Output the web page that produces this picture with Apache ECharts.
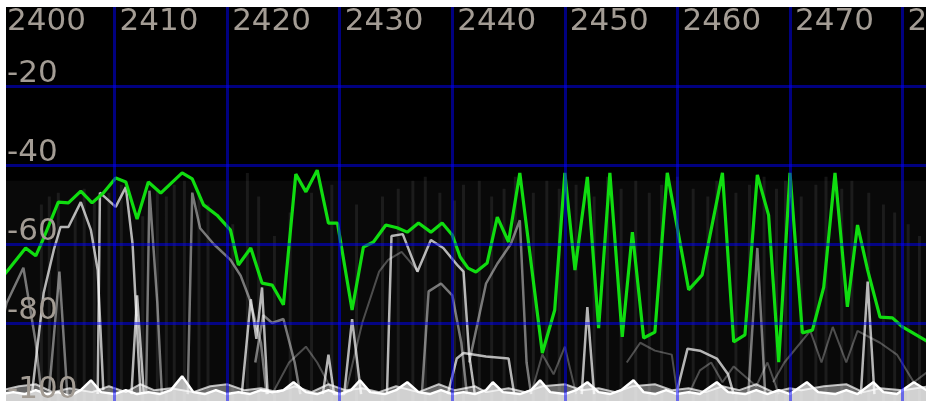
<!DOCTYPE html>
<html>
<head>
<meta charset="utf-8">
<script src="https://cdn.jsdelivr.net/npm/echarts@6/dist/echarts.min.js"></script>
<style>
  html, body { margin: 0; padding: 0; background: #fff; }
  #chart { width: 926px; height: 401px; }
</style>
</head>
<body>
<div id="chart"></div>
<script>
// max hold (green) [MHz, dBm]
const maxHold = [
  [2400,-68.5],[2400.4,-67.1],[2402.1,-61.0],[2403.0,-63.0],[2403.7,-58.5],[2405.0,-49.4],[2405.9,-49.6],
  [2407.0,-46.6],[2408.0,-49.6],[2409.0,-47.1],[2410.1,-43.3],[2411.0,-44.3],[2412.0,-53.7],[2413.0,-44.3],
  [2414.1,-47.1],[2416.0,-42.0],[2416.9,-43.5],[2417.9,-50.1],[2419.1,-52.7],[2420.3,-56.5],[2421.0,-65.3],
  [2422.1,-61.0],[2423.1,-69.9],[2424.0,-70.4],[2425.0,-75.4],[2426.1,-42.3],[2427.0,-46.8],[2428.0,-41.3],
  [2429.0,-54.7],[2429.8,-54.7],[2431.1,-76.7],[2432.1,-60.8],[2433.0,-59.5],[2434.1,-55.2],[2435.1,-55.9],
  [2436.0,-57.0],[2437.0,-54.7],[2438.1,-57.0],[2439.1,-54.7],[2440.0,-57.7],[2440.7,-63.3],[2441.4,-66.1],
  [2442.1,-67.1],[2443.1,-64.8],[2444.0,-53.2],[2445.0,-59.5],[2446.0,-42.0],[2448.0,-87.6],[2449.1,-76.7],
  [2450.0,-42.0],[2450.9,-66.6],[2452.0,-43.0],[2453.0,-81.3],[2454.0,-42.0],[2455.1,-83.5],[2456.0,-57.0],
  [2457.0,-83.8],[2458.0,-82.3],[2459.1,-42.0],[2461.0,-71.6],[2462.2,-67.8],[2464.0,-42.0],[2465.0,-84.8],
  [2466.0,-83.0],[2467.1,-42.5],[2468.1,-52.7],[2469.0,-89.9],[2470.0,-42.0],[2471.1,-82.5],[2472.0,-81.8],
  [2473.0,-70.9],[2474.0,-42.0],[2475.1,-75.9],[2476.0,-55.2],[2476.9,-66.6],[2478.0,-78.5],[2479.1,-78.7],
  [2480.0,-81.0],[2482.4,-85.0]
];

// noise floor sweeps
const floorA = [
  [2400,-98],[2401,-97.5],[2402,-98],[2403,-97],[2404,-98],[2405,-97.5],[2406,-98.5],[2407,-97],[2407.9,-94.5],
  [2408.8,-97.5],[2410,-98],[2411,-97],[2412,-98],[2413,-97.5],[2414,-98],[2415,-97],[2416,-93.5],[2417,-97.5],
  [2418,-98],[2419,-97],[2420,-98],[2421,-97.5],[2422,-98],[2423,-97],[2424,-97.5],[2425,-97],[2425.9,-95],
  [2427,-97.5],[2428,-98],[2429,-97],[2430,-98],[2431,-97],[2431.8,-94.5],[2432.7,-97.5],[2434,-98],[2435,-97],
  [2436,-95],[2437,-97.5],[2438,-98],[2439,-97],[2440,-98],[2441,-97.5],[2442,-98],[2443,-97],[2443.6,-95],
  [2444.5,-97.5],[2446,-98],[2447,-97],[2447.8,-94.5],[2448.7,-97.5],[2450,-98],[2451,-97],[2452,-95],
  [2453,-97.5],[2454,-98],[2455,-97],[2456.1,-94.5],[2457,-97.5],[2458,-98],[2459,-97],[2460,-98],[2461,-97.5],
  [2462,-98],[2463.5,-95],[2464.5,-97.5],[2466,-98],[2467,-97],[2468,-98],[2469,-97],[2470,-98],[2471.5,-95],
  [2472.5,-97.5],[2474,-98],[2475,-97],[2476,-98],[2477.4,-95],[2478.3,-97.5],[2479.5,-98],[2481,-95],[2482.4,-97.5]
];
const floorB = [
  [2400,-97],[2401.5,-96],[2403,-95.5],[2404.5,-97.5],[2406,-96.5],[2408,-97.5],[2409.5,-96],[2411,-97.5],
  [2412.3,-95.5],[2413.5,-97],[2415,-96.5],[2417,-97.5],[2418.5,-96],[2420,-95.5],[2421.5,-97],[2423,-96.5],
  [2424.5,-97.5],[2426,-96],[2427.5,-97.5],[2429,-95.5],[2430.5,-97],[2432,-96.5],[2433.5,-97.5],[2435,-96],
  [2437,-97.5],[2438.8,-95.5],[2440.2,-97],[2442,-96],[2443,-97.5],[2445,-96.5],[2446.5,-97.5],[2448,-96],
  [2450,-95.5],[2451.5,-97],[2453,-96.5],[2454.5,-97.5],[2456,-96],[2458,-95.5],[2459.5,-97],[2461,-96.5],
  [2462.5,-97.5],[2464,-96],[2465.5,-97],[2467,-95.5],[2468.5,-97.5],[2470,-96.5],[2471,-97],[2473,-96],
  [2475,-95.5],[2476.5,-97.5],[2478,-96.5],[2480,-97],[2482.4,-96]
];

// older sweeps (white / grey)
const sweepBright = [
  [[2402.7,-97],[2403.7,-72.4],[2404.6,-61.5],[2405.2,-55.7],[2405.9,-55.7],[2407.0,-49.4],[2407.9,-56.5],[2408.5,-66.6],[2409.0,-97]],
  [[2408.5,-98],[2408.7,-47],[2410.1,-50.6],[2411.0,-45.6],[2411.6,-60],[2412.3,-98]],
  [[2411.5,-98],[2412,-73],[2412.6,-98]],
  [[2421.3,-98],[2422.1,-74],[2422.6,-84],[2423.1,-71],[2423.6,-98]],
  [[2428.5,-98],[2429,-88],[2429.5,-98],[2430.4,-98],[2431.1,-79],[2431.9,-98]],
  [[2434.2,-98],[2434.6,-58],[2435.6,-57.5],[2436.9,-67],[2438.1,-59],[2439.2,-61],[2440.5,-65.5],[2441,-67],[2441.5,-88],[2442,-98]],
  [[2439.6,-98],[2440.4,-89],[2441,-87.6],[2443,-88.5],[2445,-89],[2445.5,-98]],
  [[2451.5,-98],[2452,-76],[2452.6,-98]],
  [[2459.9,-98],[2460.9,-86.5],[2462,-87],[2463.5,-89],[2464.5,-93],[2465,-98]],
  [[2476.3,-98],[2476.9,-69.5],[2477.5,-98]]
];
const sweepGrey = [
  [[2400,-80],[2400.4,-75],[2401.9,-66],[2403,-85],[2403.5,-98]],
  [[2404.2,-97],[2405.1,-67],[2405.8,-98]],
  [[2412.8,-98],[2413.1,-46.5],[2413.8,-75],[2414.2,-98]],
  [[2416.5,-98],[2416.9,-47],[2417.6,-56],[2418.8,-60],[2420.3,-64],[2421.2,-68],[2422,-74],[2423,-85],[2423.5,-98]],
  [[2422.5,-90],[2423.2,-78],[2424,-80],[2425,-79],[2426,-90],[2426.5,-98]],
  [[2437.3,-98],[2437.9,-72],[2439,-70],[2440,-73],[2440.8,-85],[2441.3,-98]],
  [[2441.5,-90],[2443,-70],[2444,-65],[2445.2,-60],[2446,-54],[2446.6,-90],[2447,-98]],
  [[2466.3,-98],[2467.1,-61],[2467.8,-98]]
];
const sweepDim = [
  [[2430.5,-98],[2432,-80],[2433.5,-67],[2434.3,-64],[2435.5,-62],[2437,-67]],
  [[2455.5,-90],[2456.7,-85],[2458,-87],[2459.5,-88],[2460,-98]],
  [[2468.5,-95],[2469.5,-90],[2471.8,-82],[2472.8,-90],[2473.8,-81],[2475,-90],[2476,-82],[2478,-85],[2479.5,-88],[2481,-95],[2482.4,-92]],
  [[2424,-98],[2425.5,-90],[2427,-86],[2428,-90],[2429.5,-98]],
  [[2447,-98],[2448,-88],[2449,-93],[2450,-86],[2451,-98]],
  [[2461,-98],[2462,-92],[2463,-90],[2464,-95],[2465,-91],[2467,-96],[2468,-90],[2469,-98]]
];

// faint history streaks: frequency and peak level
const histFreq = [2403.5,2404.2,2405,2406.5,2407.3,2408.2,2409.5,2410.6,2412.5,2413.8,2414.6,2415.3,2416.2,2417.5,
  2418.3,2420.5,2421.8,2422.8,2424.2,2425.6,2427.5,2429.3,2431.5,2433.8,2435.2,2436.5,2437.6,2438.9,2440.2,2441,
  2442.4,2443.5,2444.6,2445.6,2447.2,2448.4,2449.5,2451,2452.6,2453.8,2455,2456.3,2457.5,2458.6,2460,2461.4,2462.7,
  2463.5,2465.2,2466.4,2467.7,2468.8,2469.6,2471,2472.3,2473.2,2474.6,2475.5,2477,2478.3,2479.3,2480.5,2481.5];
const histDb = [-50,-48,-47,-52,-46,-49,-47,-45,-53,-46,-48,-45,-44,-47,-50,-55,-42,-48,-58,-52,-47,-45,-50,-48,
  -46,-44,-43,-47,-49,-45,-44,-48,-46,-43,-47,-44,-46,-45,-48,-43,-46,-44,-47,-45,-43,-46,-48,-44,-47,-45,-43,
  -46,-44,-48,-45,-43,-46,-44,-47,-50,-52,-55,-58];

const tickLabels = ['2400','2410','2420','2430','2440','2450','2460','2470','2480'];
const levelLabels = ['-20','-40','-60','-80','-100'];

const chart = echarts.init(document.getElementById('chart'));

const streaks = [];
histFreq.forEach((f, i) => { streaks.push([f, -100], [f, histDb[i]], '-'); });

const gridLine = {
  show: true, showMinLine: false, showMaxLine: false,
  lineStyle: { color: 'rgba(0,0,255,0.5)', width: 3 }
};
const labelFont = { fontFamily: 'DejaVu Sans', fontSize: 31, color: '#a39c94' };

function traceSeries(list, color, width) {
  return list.map(d => ({
    type: 'line', data: d, symbol: 'none', z: 3, silent: true,
    lineStyle: { color: color, width: width }
  }));
}

const series = [
  {
    type: 'line', data: streaks, symbol: 'none', z: 1, connectNulls: false, silent: true,
    lineStyle: { color: 'rgba(255,255,255,0.08)', width: 3 },
    markArea: { silent: true, itemStyle: { color: '#090909' }, data: [[{ yAxis: -100 }, { yAxis: -44 }]] }
  },
  ...traceSeries(sweepDim, 'rgba(255,255,255,0.28)', 2),
  ...traceSeries(sweepGrey, 'rgba(255,255,255,0.45)', 2.5),
  ...traceSeries(sweepBright, 'rgba(255,255,255,0.7)', 2.5),
  {
    type: 'line', data: floorB, symbol: 'none', z: 4, silent: true,
    lineStyle: { color: 'rgba(255,255,255,0.7)', width: 2 },
    areaStyle: { origin: 'start', color: 'rgba(255,255,255,0.55)' }
  },
  {
    type: 'line', data: floorA, symbol: 'none', z: 4, silent: true,
    lineStyle: { color: '#fff', width: 2.5 },
    areaStyle: { origin: 'start', color: '#fff' }
  },
  {
    type: 'line', data: maxHold, symbol: 'none', z: 5, silent: true,
    lineStyle: { color: '#10dd10', width: 3.2 }
  }
];

chart.setOption({
  backgroundColor: '#fff',
  animation: false,
  grid: {
    left: 2, right: -3, top: 7, bottom: -1, show: true, backgroundColor: '#000', borderWidth: 0,
    containLabel: false, outerBoundsMode: 'none'
  },
  xAxis: {
    type: 'value', position: 'top', min: 2400, max: 2482.35, interval: 10, z: 10,
    axisLine: { show: false }, axisTick: { show: false },
    splitLine: gridLine,
    axisLabel: Object.assign({
      inside: true, margin: -1, align: 'left', verticalAlign: 'top', padding: [0, 0, 0, 5],
      hideOverlap: false,
      formatter: v => (Math.abs(v % 10) < 1e-6 ? tickLabels[Math.round((v - 2400) / 10)] : '')
    }, labelFont)
  },
  yAxis: {
    type: 'value', min: -100, max: 0, interval: 20, z: 10,
    axisLine: { show: false }, axisTick: { show: false },
    splitLine: gridLine,
    axisLabel: Object.assign({
      inside: true, margin: 5, align: 'left', verticalAlign: 'bottom', padding: [0, 0, -3, 0],
      formatter: v => levelLabels[Math.round(-v / 20) - 1] || ''
    }, labelFont)
  },
  graphic: [
    { type: 'rect', left: 0, top: 0, z: 100, shape: { width: 6, height: 401 }, style: { fill: '#fff' } }
  ],
  series: series
});
</script>
</body>
</html>
